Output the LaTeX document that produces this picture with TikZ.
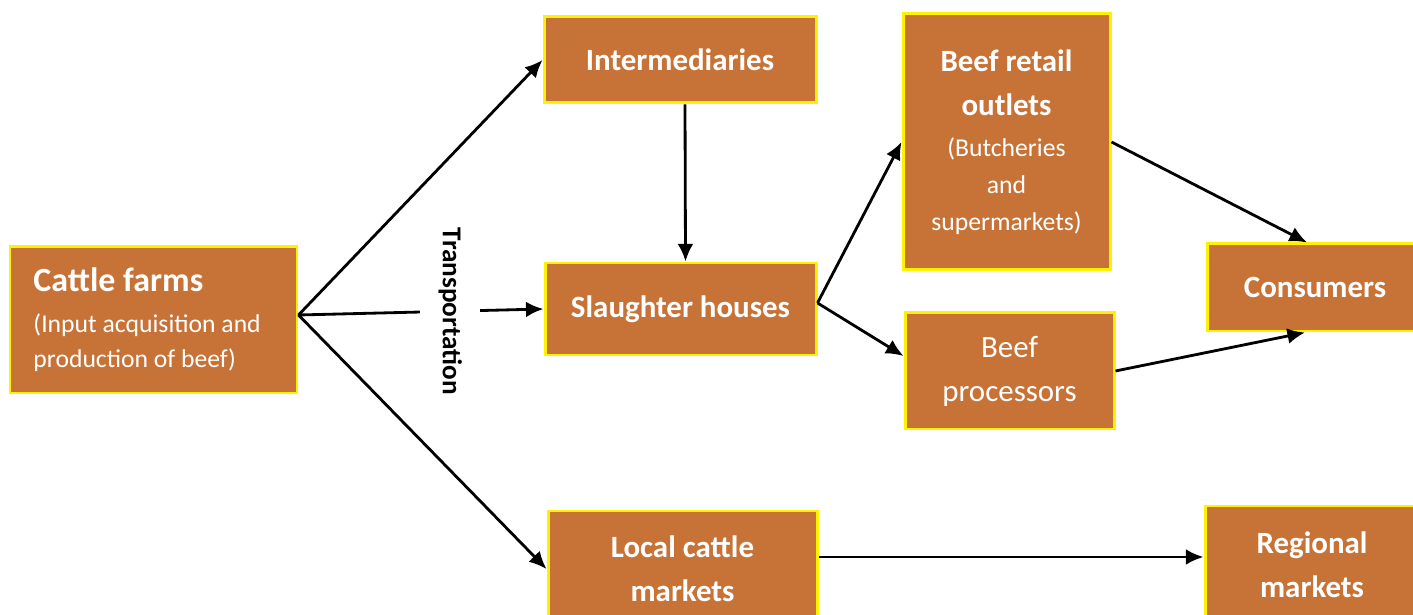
\documentclass[tikz,border=0pt]{standalone}
\usepackage{fontspec}
\setmainfont{Carlito}
\usetikzlibrary{arrows.meta}
\definecolor{boxbrown}{RGB}{199,115,56}
\definecolor{boxyellow}{RGB}{255,242,0}
\newcommand{\subtext}{\mdseries\fontsize{14.6}{20.4}\selectfont}
\newcommand{\headtext}{\bfseries\fontsize{17.6}{25}\selectfont}
\begin{document}
\begin{tikzpicture}[
        box/.style={draw=boxyellow, line width=1.7pt, fill=boxbrown, text=white, align=center, inner sep=0pt,
            font=\fontsize{17.6}{25}\selectfont},
        flow/.style={line width=1.6pt, -{Latex[length=10pt,width=9pt]}}
    ]
        \useasboundingbox (0,0) rectangle (28.26,12.3);
        \node[box, align=flush left, text width=4.8cm, inner xsep=0.47cm, minimum height=2.92cm,
            font=\fontsize{14.6}{20.4}\selectfont] (farms) at (3.07,5.90)
            {\bfseries\fontsize{19.3}{26}\selectfont Cattle farms\\[2.6pt]\subtext (Input acquisition and\\\subtext production of beef)};
        \node[box, minimum width=5.44cm, minimum height=1.72cm] (inter) at (13.6,11.1) {\headtext Intermediaries};
        \node[box, minimum width=5.42cm, minimum height=1.84cm] (slaughter) at (13.61,6.12) {\headtext Slaughter houses};
        \node[box, minimum width=4.14cm, minimum height=5.12cm] (retail) at (20.13,9.46)
            {\headtext Beef retail\\\headtext outlets\\[-1.5pt]\subtext (Butcheries\\[-4pt]\subtext and\\[-4pt]\subtext supermarkets)};
        \node[box, minimum width=4.18cm, minimum height=2.32cm] (proc) at (20.19,4.88) {Beef\\processors};
        \node[box, minimum width=4.32cm, minimum height=1.74cm] (cons) at (26.3,6.55) {\headtext Consumers};
        \node[box, minimum width=5.38cm, minimum height=2.32cm] (local) at (13.65,0.92) {\headtext Local cattle\\\headtext markets};
        \node[box, minimum width=4.28cm, minimum height=2.36cm] (regional) at (26.24,1.0) {\headtext Regional\\\headtext markets};
        \coordinate (hub) at ([yshift=0.1cm]farms.east);
        \coordinate (split) at ([yshift=0.12cm]slaughter.east);
        \draw[flow] (hub) -- (inter.west);
        \draw[flow] (hub) -- node[pos=0.62, fill=white, rotate=-90, inner xsep=1pt, minimum height=1.2cm,
            font=\fontsize{15.5}{18}\selectfont\bfseries] (trans) {Transportation} (slaughter.west);
        \draw[flow] (hub) -- (local.west);
        \draw[flow] ([xshift=0.1cm]inter.south) -- ([xshift=0.1cm]slaughter.north);
        \draw[flow] (split) -- (retail.west);
        \draw[flow] (split) -- ([yshift=0.3cm]proc.west);
        \draw[flow] (retail.east) -- ([xshift=-0.16cm]cons.north);
        \draw[flow] (proc.east) -- ([xshift=-0.2cm]cons.south);
        \draw[flow] ([yshift=0.24cm]local.east) -- ([yshift=0.16cm]regional.west);
    \end{tikzpicture}
\end{document}
